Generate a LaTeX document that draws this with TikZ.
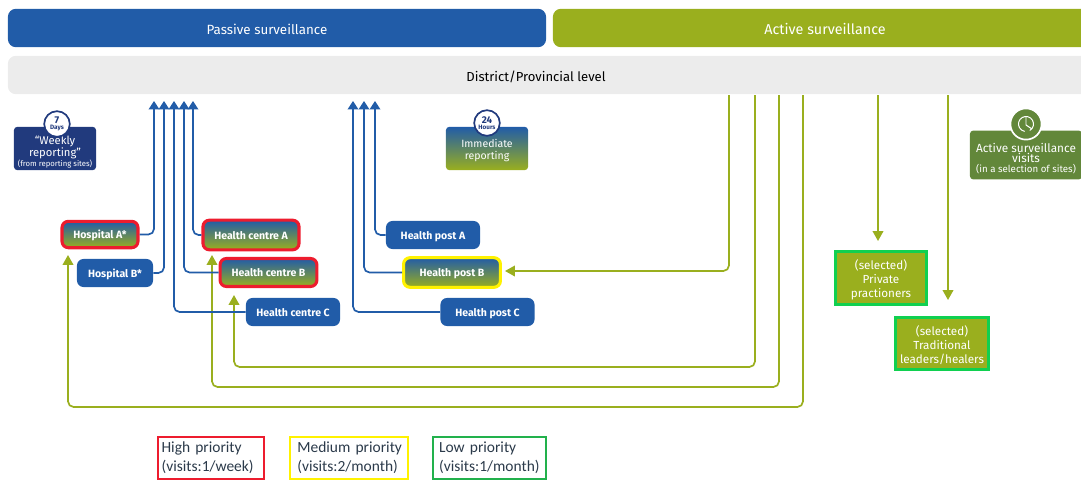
\documentclass[tikz,border=0pt]{standalone}
\usepackage{fontspec}
\setmainfont{Fira Sans}
\newfontfamily\legendfont{Carlito}
\usetikzlibrary{arrows.meta}
\definecolor{passive}{HTML}{215CA8}
\definecolor{active}{HTML}{9AAF1E}
\definecolor{district}{HTML}{ECECEC}
\definecolor{navy}{HTML}{213A7D}
\definecolor{visits}{HTML}{62873A}
\definecolor{hired}{HTML}{ED1C2E}
\definecolor{myellow}{HTML}{FFF200}
\definecolor{lgreen}{HTML}{10D050}
\definecolor{lowgreen}{HTML}{22B14C}
\definecolor{legendtext}{HTML}{2B3A4A}

\tikzset{
    barbox/.style = {rectangle, rounded corners = .2cm, minimum height = .96cm, text height = 10pt, text depth = 1pt, text = white, font = \fontsize{9.5}{11}\selectfont},
    sitebox/.style = {rectangle, rounded corners = .16cm, fill = passive, text = white, minimum height = .7cm, text height = 7pt, text depth = 1pt, font = \fontsize{7.5}{9}\selectfont\bfseries},
    mixbox/.style = {sitebox, top color = passive, bottom color = active},
    highbox/.style = {mixbox, draw = hired, line width = 2.2pt},
    medbox/.style = {mixbox, draw = myellow, line width = 2.2pt},
    infobox/.style = {rectangle, rounded corners = .08cm, inner sep = 0pt, minimum width = 2.05cm, minimum height = 1.08cm, text = white, align = center, font = \fontsize{7.5}{8}\selectfont},
    badge/.style = {circle, draw = navy, fill = white, line width = 1.2pt, inner sep = 0pt, minimum size = .64cm, align = center, text = navy, font = \fontsize{7}{5}\selectfont\bfseries},
    selbox/.style = {rectangle, fill = active, draw = lgreen, line width = 2.2pt, text = white, align = center, minimum height = 1.2cm, font = \fontsize{8.3}{10}\selectfont},
    legendbox/.style = {rectangle, draw, line width = 1.5pt, minimum height = 1.03cm, align = left, text = legendtext, font = \legendfont\fontsize{11}{13.5}\selectfont},
    bluearrow/.style = {draw = passive, line width = 1.2pt, rounded corners = .14cm, -{Triangle[width = 7.5pt, length = 6pt]}},
    greenarrow/.style = {draw = active, line width = 1.2pt, rounded corners = .14cm, -{Triangle[width = 7.5pt, length = 7pt]}}
}

\begin{document}
\begin{tikzpicture}[x = .025cm, y = -.025cm]
    \useasboundingbox (0, 0) rectangle (1081, 480);

    \node[barbox, fill = passive, minimum width = 13.45cm] (passive) at (277, 28) {\hspace{-.5cm}Passive surveillance};
    \node[barbox, fill = active, minimum width = 13.6cm, font = \fontsize{10.2}{12}\selectfont] (active) at (825, 28) {Active surveillance};
    \node[barbox, fill = district, text = black, minimum width = 27.1cm, font = \fontsize{9.3}{11}\selectfont] (district) at (550, 75) {\hspace{-.7cm}District/Provincial level};

    \node[infobox, fill = navy, font = \fontsize{8}{8.5}\selectfont] (weekly) at (55, 148.5) {\rule{0pt}{11pt}``Weekly\\reporting''\\[-1pt]{\fontsize{5.5}{6}\selectfont (from reporting sites)}};
    \node[badge] (days) at (57, 124) {7\\[-1pt]{\fontsize{4.5}{5}\selectfont Days}};
    \node[infobox, top color = passive, bottom color = active] (immediate) at (487, 148.5) {\rule{0pt}{8.5pt}Immediate\\[1pt]reporting};
    \node[badge] (hours) at (487, 123) {24\\[-1pt]{\fontsize{4.5}{5}\selectfont Hours}};
    \node[infobox, fill = visits, minimum width = 2.8cm, minimum height = 1.22cm, font = \fontsize{8.4}{7}\selectfont] (asv) at (1026, 155) {\rule{0pt}{12pt}Active surveillance\\visits\\{\fontsize{6.9}{7}\selectfont (in a selection of sites)}};
    \node[circle, fill = visits, draw = white, line width = 1.2pt, minimum size = .78cm] (clock) at (1026, 124) {};
    \draw[white, line width = .7pt] (1026, 124) ++(60:7.5) arc (60:-260:7.5);
    \draw[white, line width = .7pt] (1026, 116) -- (1026, 125) -- (1032, 129);

    \node[highbox, minimum width = 1.9cm, minimum height = .66cm] (hospA) at (100, 234.5) {Hospital A*};
    \node[sitebox, minimum width = 1.9cm] (hospB) at (115, 273) {Hospital B*};
    \node[highbox, minimum width = 2.4cm, minimum height = .74cm] (centreA) at (251, 235) {Health centre A};
    \node[highbox, minimum width = 2.42cm] (centreB) at (268.5, 272.5) {Health centre B};
    \node[sitebox, minimum width = 2.35cm] (centreC) at (293, 312) {Health centre C};
    \node[sitebox, minimum width = 2.35cm] (postA) at (433, 235) {Health post A};
    \node[medbox, minimum width = 2.42cm, minimum height = .74cm] (postB) at (452, 272.5) {Health post B};
    \node[sitebox, minimum width = 2.35cm] (postC) at (487.5, 312) {Health post C};

    \node[selbox, minimum width = 2.28cm] (private) at (881, 278) {\rule{0pt}{9pt}(selected)\\Private\\practioners};
    \node[selbox, minimum width = 2.33cm] (healers) at (942, 343.5) {\rule{0pt}{9pt}(selected)\\Traditional\\leaders/healers};

    \node[legendbox, draw = hired, text width = 2.47cm, inner xsep = .09cm] (high) at (211, 458) {High priority\\(visits:1/week)};
    \node[legendbox, draw = myellow, text width = 2.68cm, inner xsep = .135cm] (medium) at (349, 458) {\hspace*{.05cm}Medium priority\\\hspace*{.05cm}(visits:2/month)};
    \node[legendbox, draw = lowgreen, text width = 2.52cm, inner xsep = .15cm] (low) at (489.5, 458) {Low priority\\(visits:1/month)};

    % free ends of the connectors
    \coordinate (upA) at (154, 101);
    \coordinate (upB) at (164, 101);
    \coordinate (upC) at (174, 101);
    \coordinate (upD) at (184, 101);
    \coordinate (upE) at (193, 101);
    \coordinate (upF) at (353, 101);
    \coordinate (upG) at (364, 101);
    \coordinate (upH) at (375, 101);
    \coordinate (inPostB) at (505, 271);
    \coordinate (inCentreB) at (234, 295);
    \coordinate (inCentreA) at (212, 255);
    \coordinate (inHospA) at (68, 255);
    \coordinate (inPrivate) at (878, 241);
    \coordinate (inHealers) at (948, 300);

    \draw[greenarrow] (729, 95) |- (inPostB);
    \draw[greenarrow] (755, 95) |- (400, 367) -| (inCentreB);
    \draw[greenarrow] (779, 95) |- (400, 387) -| (inCentreA);
    \draw[greenarrow] (803, 95) |- (400, 407) -| (inHospA);
    \draw[greenarrow] (878, 95) -- (inPrivate);
    \draw[greenarrow] (948, 95) -- (inHealers);

    \draw[bluearrow] (hospA.east) -| (upA);
    \draw[bluearrow] (hospB.east) -| (upB);
    \draw[bluearrow] (centreC.west) -| (upC);
    \draw[bluearrow] (centreB.west) -| (upD);
    \draw[bluearrow] (centreA.west) -| (upE);
    \draw[bluearrow] (postC.west) -| (upF);
    \draw[bluearrow] (postB.west) -| (upG);
    \draw[bluearrow] (postA.west) -| (upH);
\end{tikzpicture}
\end{document}
